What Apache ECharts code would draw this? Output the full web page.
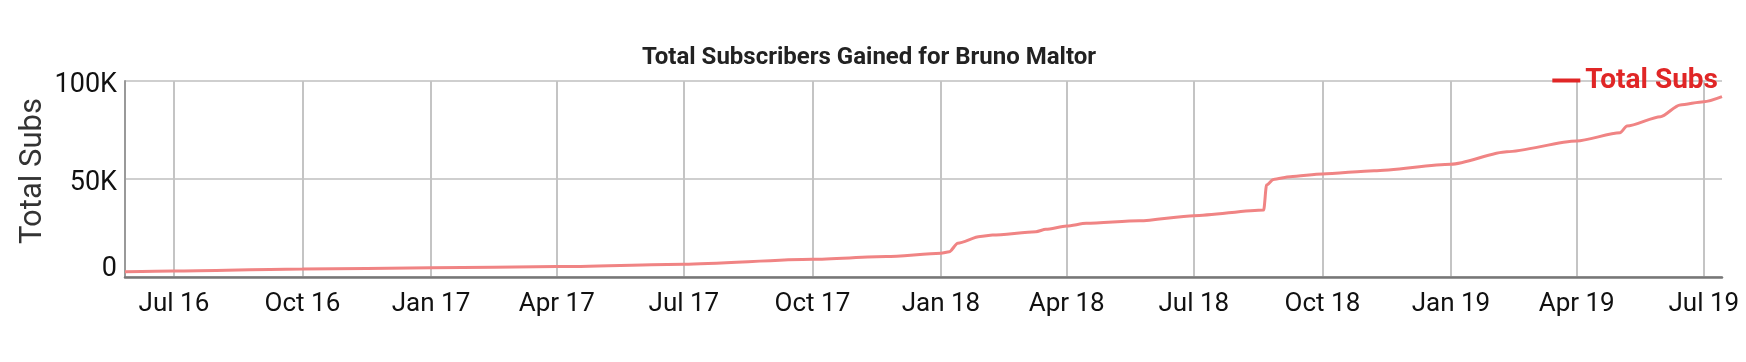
<!DOCTYPE html>
<html>
<head>
<meta charset="utf-8">
<script src="https://cdn.jsdelivr.net/npm/echarts@6/dist/echarts.min.js"></script>
<style>
html,body{margin:0;padding:0;background:#fff;}
#chart{width:1746px;height:362px;}
</style>
</head>
<body>
<div id="chart"></div>
<script>
const chartTitle = 'Total Subscribers Gained for Bruno Maltor';
const seriesName = 'Total Subs';
const dates = [
  '2016-05-27','2016-07-01','2016-10-01','2017-01-01','2017-04-01','2017-07-01',
  '2017-10-01','2017-11-23','2018-01-01','2018-01-07','2018-01-13','2018-01-29',
  '2018-02-07','2018-03-10','2018-03-17','2018-04-01','2018-04-15','2018-05-23',
  '2018-07-01','2018-08-20','2018-08-22','2018-08-27','2018-09-08','2018-10-01',
  '2018-11-07','2019-01-01','2019-02-10','2019-04-01','2019-05-02','2019-05-07',
  '2019-05-31','2019-06-14','2019-07-01','2019-07-14'
];
const subs = [
  2700,3100,4100,4700,5300,6500,
  9000,10400,12100,12900,17200,20600,
  21400,23100,24300,26000,27400,28700,
  31300,34200,46900,49800,51200,52600,
  54200,57500,63900,69400,73600,77000,
  81800,87800,89400,92000
];
const tickDates = ['2016-07-01','2016-10-01','2017-01-01','2017-04-01','2017-07-01','2017-10-01',
  '2018-01-01','2018-04-01','2018-07-01','2018-10-01','2019-01-01','2019-04-01','2019-07-01'];
const tickLabels = ['Jul 16','Oct 16','Jan 17','Apr 17','Jul 17','Oct 17',
  'Jan 18','Apr 18','Jul 18','Oct 18','Jan 19','Apr 19','Jul 19'];
const yTicks = [0, 50000, 100000];
const yTickLabels = ['0', '50K', '100K'];

const ts = s => { const p = s.split('-').map(Number); return Date.UTC(p[0], p[1]-1, p[2]); };
const tickTs = tickDates.map(ts);
const labelOf = {};
tickTs.forEach((t, i) => labelOf[t] = tickLabels[i]);

const chart = echarts.init(document.getElementById('chart'), null, {renderer: 'canvas'});
chart.setOption({
  animation: false,
  title: {
    text: chartTitle,
    left: 864, top: 40, textAlign: 'center',
    textStyle: {fontFamily: 'Roboto', fontWeight: 'bold', fontSize: 24, color: '#222', lineHeight: 26}
  },
  legend: {
    right: 23, top: 61,
    itemWidth: 28, itemHeight: 4, itemGap: 10,
    icon: 'rect',
    textStyle: {fontFamily: 'Roboto', fontWeight: 'bold', fontSize: 28, color: '#e02626', lineHeight: 29},
    data: [seriesName]
  },
  grid: {left: 125, right: 24, top: 81, bottom: 85},
  xAxis: {
    type: 'value',
    min: ts(dates[0]), max: ts(dates[dates.length-1]),
    axisLine: {show: true, onZero: false, lineStyle: {color: '#777', width: 2.5}},
    axisTick: {show: false, customValues: tickTs},
    axisLabel: {
      customValues: tickTs,
      formatter: v => labelOf[v] || '',
      fontFamily: 'Roboto', fontSize: 26, color: '#111', margin: 14
    },
    splitLine: {show: true, lineStyle: {color: '#c4c4c4', width: 2}}
  },
  yAxis: {
    type: 'value', min: 0, max: 100000, interval: 50000,
    name: 'Total Subs', nameLocation: 'middle', nameGap: 76, nameRotate: 90,
    nameMoveOverlap: false,
    nameTextStyle: {fontFamily: 'Roboto', fontSize: 31, color: '#333', padding: [0,0,0,16]},
    axisLine: {show: true, lineStyle: {color: '#999', width: 2}},
    axisTick: {show: false},
    axisLabel: {
      margin: 8,
      formatter: v => {
        const i = yTicks.indexOf(v);
        const t = i >= 0 ? yTickLabels[i] : '';
        return v === 0 ? '{z|' + t + '}' : '{n|' + t + '}';
      },
      rich: {
        n: {fontFamily: 'Roboto', fontSize: 27, color: '#111', padding: [8,0,0,0]},
        z: {fontFamily: 'Roboto', fontSize: 27, color: '#111', padding: [0,0,16,0]}
      }
    },
    splitLine: {show: true, lineStyle: {color: '#cfcfcf', width: 2}}
  },
  series: [{
    name: seriesName,
    type: 'line',
    data: dates.map((d, i) => [ts(d), subs[i]]),
    showSymbol: false,
    smooth: 0.25,
    smoothMonotone: 'x',
    lineStyle: {color: '#f08484', width: 3},
    itemStyle: {color: '#e02626'}
  }]
});
</script>
</body>
</html>
